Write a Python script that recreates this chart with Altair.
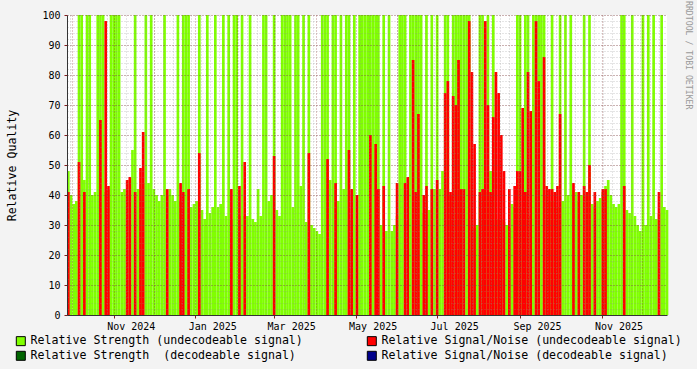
import altair as alt
import pandas as pd

START = "2024-09-27"
STEP_DAYS = 2

# Relative strength, undecodeable signal (one value per 2-day step)
strength_undecodeable = [
    48, 40, 37, 38, 100, 100, 45, 100, 100, 40, 41, 100, 100, 100, 41,
    42, 100, 100, 100, 100, 41, 42, 40, 45, 55, 100, 42, 42, 44, 100,
    44, 100, 42, 40, 38, 40, 100, 40, 42, 40, 38, 100, 38, 100, 100,
    100, 36, 37, 38, 100, 35, 32, 100, 34, 36, 100, 36, 37, 100, 33,
    100, 32, 100, 100, 33, 100, 33, 33, 100, 32, 31, 42, 33, 100, 100,
    38, 40, 100, 35, 33, 100, 100, 100, 100, 36, 100, 100, 43, 100, 31,
    100, 30, 29, 28, 27, 100, 100, 100, 45, 100, 100, 38, 100, 42, 100,
    100, 32, 100, 30, 100, 100, 100, 100, 100, 100, 100, 100, 30, 100, 28,
    100, 28, 30, 33, 100, 100, 100, 31, 100, 100, 100, 100, 100, 34, 100,
    35, 100, 42, 100, 42, 48, 100, 100, 40, 100, 100, 100, 100, 100, 100,
    100, 30, 29, 30, 100, 100, 41, 100, 48, 100, 30, 32, 32, 31, 30,
    29, 37, 36, 100, 100, 35, 100, 100, 33, 100, 100, 100, 100, 100, 40,
    38, 100, 38, 36, 100, 38, 100, 40, 100, 42, 41, 38, 40, 100, 40,
    100, 37, 36, 38, 39, 41, 43, 45, 40, 37, 36, 37, 100, 100, 35,
    34, 100, 33, 30, 28, 100, 30, 100, 33, 100, 32, 34, 100, 36, 35,
]

# Relative signal/noise, undecodeable signal (0 = no value)
snr_undecodeable = [
    41, 0, 0, 0, 51, 0, 41, 0, 0, 0, 0, 0, 65, 0, 98,
    43, 0, 0, 0, 0, 0, 0, 45, 46, 0, 41, 0, 49, 61, 0,
    0, 0, 0, 0, 0, 0, 0, 42, 0, 0, 0, 0, 44, 41, 0,
    42, 0, 0, 0, 54, 0, 0, 0, 0, 0, 0, 0, 0, 0, 0,
    0, 42, 0, 0, 43, 0, 51, 0, 0, 0, 0, 0, 0, 0, 0,
    0, 0, 53, 0, 0, 0, 0, 0, 0, 0, 0, 0, 0, 0, 0,
    54, 0, 0, 0, 0, 0, 0, 52, 0, 0, 44, 0, 0, 0, 0,
    55, 42, 0, 40, 0, 0, 0, 0, 60, 0, 57, 42, 0, 43, 0,
    0, 0, 0, 44, 0, 0, 44, 46, 0, 85, 41, 67, 0, 40, 43,
    0, 42, 0, 45, 0, 0, 74, 78, 41, 73, 70, 85, 42, 42, 0,
    98, 81, 57, 0, 41, 42, 98, 70, 41, 66, 81, 74, 60, 48, 0,
    42, 0, 43, 48, 48, 69, 41, 81, 68, 0, 98, 78, 0, 86, 43,
    42, 42, 41, 43, 67, 0, 0, 0, 0, 44, 0, 41, 0, 43, 41,
    50, 0, 41, 0, 0, 42, 42, 0, 0, 0, 0, 0, 0, 43, 0,
    0, 0, 0, 0, 0, 0, 0, 0, 0, 0, 0, 41, 0, 0, 0,
]

S1 = "Relative Strength (undecodeable signal)"
S2 = "Relative Signal/Noise (undecodeable signal)"
S3 = "Relative Strength \u00a0(decodeable signal)"
S4 = "Relative Signal/Noise (decodeable signal)"
# legend fills column by column: left column S1, S3; right column S2, S4
series_names = [S1, S3, S2, S4]
series_colors = ["#80FF00", "#006400", "#FF0000", "#00008B"]

y_major = list(range(0, 101, 10))
y_minor = list(range(0, 101, 2))

FONT = "DejaVu Sans Mono"

starts = pd.date_range(START, periods=len(strength_undecodeable), freq=f"{STEP_DAYS}D")
ends = starts + pd.Timedelta(days=STEP_DAYS)

df_s = pd.DataFrame({"start": starts, "end": ends, "value": strength_undecodeable, "series": S1})
df_n = pd.DataFrame({"start": starts, "end": ends, "value": snr_undecodeable, "series": S2})
df_n = df_n[df_n["value"] > 0]

x_scale = alt.Scale(domain=[alt.DateTime(year=2024, month=9, date=27),
                            alt.DateTime(year=2025, month=12, date=20)], nice=False)
y_scale = alt.Scale(domain=[0, 100], nice=False)

legend = alt.Legend(
    orient="none", legendX=-52, legendY=320, columns=2, columnPadding=62,
    rowPadding=1, symbolType="square", symbolSize=81, symbolStrokeColor="black",
    symbolStrokeWidth=1, symbolOpacity=1, labelFont=FONT, labelFontSize=11.6,
    labelColor="black", labelOffset=4, title=None, labelLimit=0, padding=0,
)
color = alt.Color("series:N", scale=alt.Scale(domain=series_names, range=series_colors),
                  legend=legend)

MGRID = "#821E1E"
GRID = "#8C8C8C"

x_minor_axis = alt.Axis(orient="bottom", tickCount={"interval": "week", "step": 1},
                        grid=True, gridColor=GRID, gridOpacity=0.45, gridDash=[1, 2],
                        labels=False, ticks=False, domain=False, title=None, zindex=1)
y_minor_axis = alt.Axis(orient="left", values=y_minor, grid=True, gridColor=GRID,
                        gridOpacity=0.45, gridDash=[1, 2], labels=False, ticks=False,
                        domain=False, title=None, zindex=1)

x_major_axis = alt.Axis(
    orient="bottom", tickCount={"interval": "month", "step": 1}, grid=True,
    gridColor=MGRID, gridOpacity=0.5, gridDash=[1, 2],
    labelExpr="month(datum.value) % 2 == 0 ? timeFormat(datum.value, '%b %Y') : ''",
    labelOffset=17, labelPadding=3, labelFont=FONT, labelFontSize=10, labelColor="black",
    labelOverlap=False, labelFlush=False, labelBound=False,
    tickColor=MGRID, tickSize=3,
    tickOpacity={"condition": {"test": "month(datum.value) % 2 == 0", "value": 1}, "value": 0},
    domainColor="#333333", title=None, zindex=1,
)
y_major_axis = alt.Axis(
    orient="left", values=y_major, grid=True, gridColor=MGRID, gridOpacity=0.5,
    gridDash=[1, 2], labelFont=FONT, labelFontSize=10, labelColor="black",
    labelPadding=4, tickColor=MGRID, tickSize=3, domainColor="#333333",
    title="Relative Quality", titleFont=FONT, titleFontSize=11.6, titleFontWeight="normal",
    titleColor="black", titlePadding=24, zindex=1,
)

green = alt.Chart(df_s).mark_rect().encode(
    x=alt.X("start:T", scale=x_scale, axis=x_minor_axis),
    x2="end:T",
    y=alt.Y("value:Q", scale=y_scale, axis=y_minor_axis),
    y2=alt.datum(0),
    color=color,
)

red = alt.Chart(df_n).mark_rect().encode(
    x=alt.X("start:T", scale=x_scale, axis=x_major_axis),
    x2="end:T",
    y=alt.Y("value:Q", scale=y_scale, axis=y_major_axis),
    y2=alt.datum(0),
    color=color,
)

chart = alt.layer(green, red).resolve_axis(x="independent", y="independent").properties(
    width=600, height=300,
    background="#F3F3F3",
    autosize=alt.AutoSizeParams(type="none"),
    padding={"left": 67, "top": 15, "right": 30, "bottom": 54},
    title=alt.TitleParams("RRDTOOL / TOBI OETIKER", orient="right", anchor="start",
                          angle=90, font=FONT, fontSize=8.2, color="#999999",
                          fontWeight="normal", offset=2, dx=-9),
).configure_view(stroke=None, fill="white")

chart.save("out.html", embed_options={"renderer": "svg", "actions": False})
